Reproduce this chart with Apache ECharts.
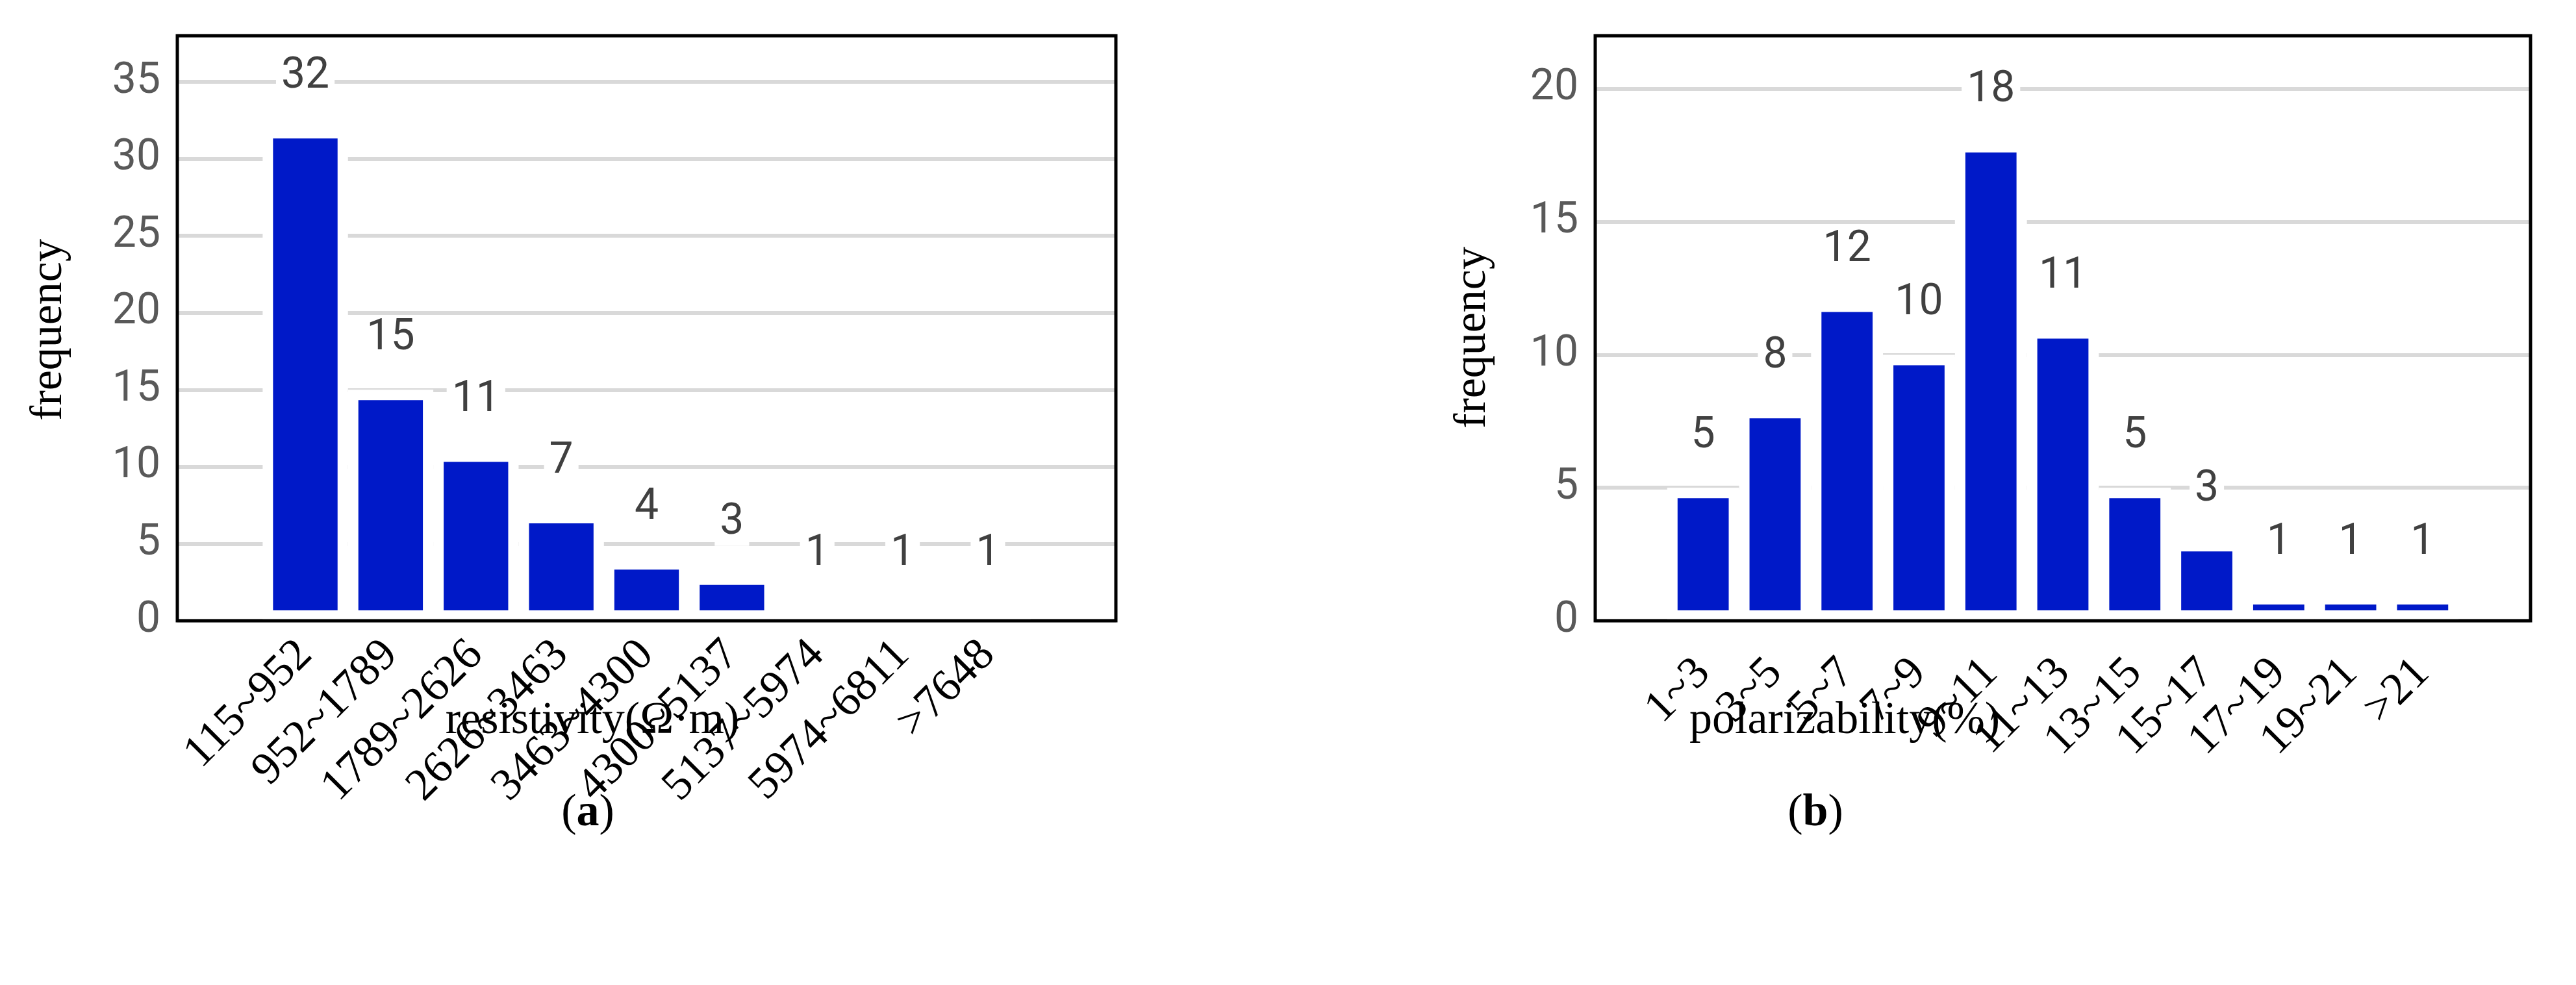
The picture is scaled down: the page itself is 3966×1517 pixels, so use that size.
<!DOCTYPE html>
<html><head><meta charset="utf-8">
<script src="https://cdn.jsdelivr.net/npm/echarts@6/dist/echarts.min.js"></script>
<style>html,body{margin:0;padding:0;background:#fff}#c{width:3966px;height:1517px}</style>
</head><body><div id="c"></div>
<script>
const catsA = ['', '115~952','952~1789','1789~2626','2626~3463','3463~4300','4300~5137','5137~5974','5974~6811','>7648', ''];
const valsA = ['-', 32, 15, 11, 7, 4, 3, 1, 1, 1, '-'];
const catsB = ['', '1~3','3~5','5~7','7~9','9~11','11~13','13~15','15~17','17~19','19~21','>21', ''];
const valsB = ['-', 5, 8, 12, 10, 18, 11, 5, 3, 1, 1, 1, '-'];

const numFont = '"Liberation Sans Narrow", "Roboto", sans-serif';
const serif = '"Liberation Serif", "Times New Roman", serif';
const chart = echarts.init(document.getElementById('c'));
function xAx(idx, cats, margin){
  return {type:'category', gridIndex:idx, data:cats, boundaryGap:true,
    axisLine:{show:false}, axisTick:{show:false},
    axisLabel:{rotate:45, interval:0, margin:margin, fontFamily:serif, fontSize:70, color:'#000'}};
}
function yAx(idx, max){
  return {type:'value', gridIndex:idx, min:0, max:max, interval:5,
    axisLine:{show:false}, axisTick:{show:false},
    axisLabel:{showMaxLabel:false, fontFamily:numFont, fontSize:66, color:'#595959', margin:26},
    splitLine:{lineStyle:{color:'#d9d9d9', width:6}}};
}
function ser(idx, vals){
  return {type:'bar', xAxisIndex:idx, yAxisIndex:idx, data:vals, barCategoryGap:'0%',
    itemStyle:{color:'#0019c8', borderColor:'#fff', borderWidth:16},
    label:{show:true, position:'top', distance:44, fontFamily:numFont, fontSize:66, color:'#404040',
      backgroundColor:'#fff', padding:[2,8]}};
}
chart.setOption({
  animation:false,
  grid:[
    {left:273, width:1445, top:55, height:901},
    {left:2456, width:1440, top:55, height:901}
  ],
  xAxis:[xAx(0, catsA, 42), xAx(1, catsB, 70)],
  yAxis:[yAx(0, 38), yAx(1, 22)],
  series:[ser(0, valsA), ser(1, valsB)],
  graphic:[
    {type:'rect', z:100, shape:{x:273, y:55, width:1445, height:901}, style:{fill:'none', stroke:'#000', lineWidth:5}},
    {type:'rect', z:100, shape:{x:2456, y:55, width:1440, height:901}, style:{fill:'none', stroke:'#000', lineWidth:5}},
    {type:'text', x:76, y:508, rotation:Math.PI/2, style:{text:'frequency', font:'70px '+serif, fill:'#000', align:'center', verticalAlign:'middle'}},
    {type:'text', x:2268, y:520, rotation:Math.PI/2, style:{text:'frequency', font:'70px '+serif, fill:'#000', align:'center', verticalAlign:'middle'}},
    {type:'text', x:912, y:1111, style:{text:'resistivity(Ω·m)', font:'70px '+serif, fill:'#000', align:'center', verticalAlign:'middle'}},
    {type:'text', x:2840, y:1111, style:{text:'polarizability(%)', font:'70px '+serif, fill:'#000', align:'center', verticalAlign:'middle'}},
    {type:'text', x:905, y:1253, style:{rich:{n:{fontFamily:serif, fontSize:70, fill:'#000'}, b:{fontFamily:serif, fontSize:70, fontWeight:'bold', fill:'#000'}}, text:'{n|(}{b|a}{n|)}', align:'center', verticalAlign:'middle'}},
    {type:'text', x:2795, y:1253, style:{rich:{n:{fontFamily:serif, fontSize:70, fill:'#000'}, b:{fontFamily:serif, fontSize:70, fontWeight:'bold', fill:'#000'}}, text:'{n|(}{b|b}{n|)}', align:'center', verticalAlign:'middle'}}
  ]
});
</script></body></html>
